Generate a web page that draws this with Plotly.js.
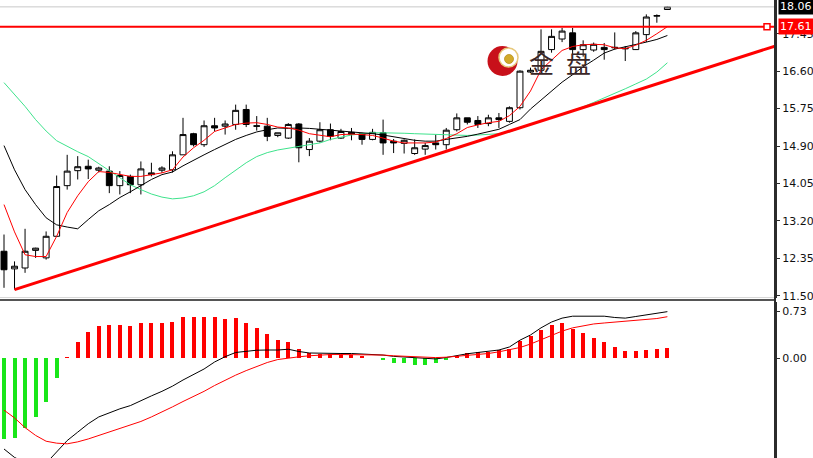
<!DOCTYPE html>
<html>
<head>
<meta charset="utf-8">
<script src="https://cdn.plot.ly/plotly-3.0.1.min.js"></script>
<style>html,body{margin:0;padding:0;background:#fff;}#chart{width:813px;height:458px;}</style>
</head>
<body>
<div id="chart"></div>
<script>
// ---- price candles (bar index 0..63) ----
const openP  = [12.51,12.11,12.13,12.53,12.36,12.85,14.00,14.34,14.44,14.35,14.33,14.00,14.21,14.02,14.25,14.35,
                14.36,14.70,15.18,14.93,15.36,15.35,15.39,15.73,15.36,15.35,15.14,15.08,15.40,14.82,15.01,15.27,
                15.08,15.21,15.18,15.05,15.20,15.01,14.96,14.73,14.83,14.97,14.93,15.27,15.54,15.48,15.41,15.54,
                15.46,15.77,16.58,16.62,17.09,17.33,17.47,17.09,17.08,17.14,17.13,17.12,17.09,17.43,17.85,18.00];
const highP  = [12.89,12.28,13.02,12.59,12.96,14.23,14.70,14.67,14.59,14.43,14.44,14.33,14.25,14.55,14.52,14.44,
                14.78,15.54,15.20,15.48,15.54,15.48,15.84,15.84,15.58,15.54,15.20,15.42,15.42,15.08,15.44,15.41,
                15.29,15.31,15.20,15.29,15.50,15.06,15.05,15.05,14.97,15.16,15.31,15.64,15.54,15.58,15.61,15.65,
                15.80,16.62,16.68,17.55,17.55,17.58,17.58,17.30,17.25,17.24,17.48,17.17,17.51,17.89,17.89,18.08];
const lowP   = [11.68,11.64,12.02,12.36,12.32,12.84,13.91,14.14,14.15,14.30,13.83,13.80,13.83,13.80,14.21,14.29,
                14.30,14.70,14.89,14.88,15.23,15.16,15.27,15.33,15.25,15.01,15.10,15.06,14.53,14.67,14.98,15.03,
                15.06,15.03,14.93,15.03,14.70,14.74,14.73,14.70,14.70,14.82,14.82,15.23,15.39,15.31,15.35,15.31,
                15.43,15.73,16.56,16.57,17.02,17.26,16.98,16.93,17.04,16.86,17.09,16.83,17.08,17.26,17.70,18.00];
const closeP = [12.09,12.17,12.51,12.58,12.85,13.98,14.33,14.43,14.38,14.40,14.00,14.23,14.02,14.38,14.29,14.40,
                14.70,15.16,14.93,15.36,15.31,15.40,15.71,15.39,15.35,15.12,15.20,15.39,14.86,15.01,15.27,15.12,
                15.23,15.17,15.05,15.21,14.97,14.97,15.03,14.86,14.91,14.93,15.26,15.54,15.44,15.39,15.54,15.50,
                15.77,16.60,16.62,17.05,17.39,17.51,17.09,17.20,17.21,17.09,17.14,17.11,17.47,17.83,17.86,18.06];

// ---- moving averages ----
const maFast = [13.57,12.95,12.43,12.39,12.39,12.85,13.39,13.77,14.09,14.32,14.30,14.25,14.21,14.21,14.25,14.29,
                14.36,14.65,14.86,15.03,15.23,15.31,15.39,15.42,15.43,15.39,15.33,15.31,15.26,15.18,15.14,15.11,
                15.16,15.17,15.16,15.14,15.08,15.01,14.97,14.97,14.97,14.99,15.07,15.18,15.32,15.38,15.43,15.46,
                15.59,15.80,16.15,16.63,16.86,17.07,17.16,17.20,17.21,17.20,17.13,17.11,17.19,17.30,17.45,17.61];
const maMid  = [14.91,14.36,13.91,13.57,13.27,13.11,13.06,13.02,13.23,13.43,13.57,13.73,13.86,14.00,14.14,14.25,
                14.31,14.45,14.58,14.70,14.82,14.93,15.05,15.14,15.22,15.27,15.31,15.30,15.31,15.30,15.28,15.27,
                15.25,15.23,15.20,15.18,15.15,15.11,15.07,15.03,15.01,15.01,15.05,15.08,15.12,15.17,15.23,15.28,
                15.39,15.50,15.74,15.95,16.16,16.35,16.52,16.70,16.85,17.01,17.10,17.15,17.20,17.26,17.32,17.41];
const maSlow = [16.34,16.07,15.80,15.50,15.24,15.02,14.89,14.77,14.66,14.50,14.34,14.18,14.02,13.91,13.81,13.74,
                13.70,13.72,13.77,13.86,14.00,14.18,14.36,14.52,14.66,14.75,14.81,14.85,14.89,14.92,14.97,15.05,
                15.10,15.15,15.18,15.20,15.20,15.20,15.19,15.18,15.17,15.16,15.15,15.14,15.14,15.15,15.16,15.18,
                15.22,15.30,15.38,15.46,15.55,15.63,15.71,15.79,15.89,15.99,16.10,16.20,16.31,16.42,16.58,16.79];

// ---- MACD panel ----
const macdHist = [-1.245,-1.225,-1.08,-0.90,-0.68,-0.30,0.015,0.25,0.40,0.50,0.51,0.51,0.50,0.54,0.54,0.54,
                  0.555,0.63,0.63,0.64,0.64,0.61,0.62,0.54,0.47,0.37,0.28,0.25,0.15,0.077,0.06,0.06,
                  0.05,0.05,0.03,0.01,-0.03,-0.07,-0.077,-0.11,-0.11,-0.077,-0.03,0.03,0.077,0.09,0.10,0.13,
                  0.15,0.26,0.35,0.44,0.51,0.54,0.46,0.385,0.32,0.25,0.18,0.11,0.11,0.13,0.14,0.16];
const macdLine = [-1.40,-1.53,-1.61,-1.64,-1.62,-1.44,-1.27,-1.14,-1.01,-0.905,-0.84,-0.78,-0.73,-0.65,-0.58,-0.51,
                  -0.43,-0.335,-0.25,-0.165,-0.057,0.025,0.09,0.11,0.125,0.128,0.128,0.14,0.105,0.082,0.077,0.077,
                  0.074,0.074,0.066,0.062,0.05,0.03,0.02,0.005,-0.003,-0.01,0.012,0.043,0.07,0.09,0.11,0.128,
                  0.175,0.28,0.36,0.47,0.56,0.62,0.65,0.653,0.653,0.65,0.63,0.62,0.645,0.668,0.69,0.72];
const signalLine = [-0.80,-0.92,-1.07,-1.19,-1.28,-1.31,-1.32,-1.29,-1.245,-1.19,-1.13,-1.08,-1.03,-0.975,-0.905,-0.83,
                  -0.75,-0.667,-0.59,-0.51,-0.42,-0.335,-0.26,-0.19,-0.127,-0.065,-0.019,0.005,0.023,0.039,0.05,0.058,
                  0.058,0.058,0.058,0.058,0.05,0.039,0.032,0.023,0.017,0.011,0.017,0.031,0.046,0.062,0.074,0.10,
                  0.128,0.167,0.22,0.29,0.36,0.42,0.47,0.50,0.53,0.545,0.557,0.571,0.585,0.60,0.614,0.642];

// ---- levels, trend line, axis ticks ----
const trendX = [1, 73.22];
const trendY = [11.64, 17.17];
const resistanceLevel = 17.61;
const lastPrice = 18.06;
const priceTicks = [11.50,12.35,13.20,14.05,14.90,15.75,16.60,17.45];
const macdTicks = [0, 0.73];
const logoText = ['金','盘'];

const idx = openP.map((_, i) => i);
const AX = '#2b2b2b';
const tickFont = {family:'DejaVu Sans, Verdana, sans-serif', size:11, color:'#111'};

const traces = [
  {type:'bar', x: idx, y: macdHist, xaxis:'x', yaxis:'y2', width:0.38,
   marker:{color: macdHist.map(v => v >= 0 ? '#ff0000' : '#19e619'), line:{width:0}}, hoverinfo:'skip'},
  {type:'scatter', mode:'lines', x: idx, y: macdLine, xaxis:'x', yaxis:'y2', line:{color:'#000', width:1}},
  {type:'scatter', mode:'lines', x: idx, y: signalLine, xaxis:'x', yaxis:'y2', line:{color:'#ff0000', width:1}},
  {type:'candlestick', x: idx, open: openP, high: highP, low: lowP, close: closeP, xaxis:'x', yaxis:'y',
   line:{width:1}, whiskerwidth:0,
   increasing:{line:{color:'#000', width:1}, fillcolor:'#ffffff'},
   decreasing:{line:{color:'#000', width:1}, fillcolor:'#000000'}},
  {type:'scatter', mode:'lines', x: idx, y: maSlow, yaxis:'y', line:{color:'#3ee38c', width:1}},
  {type:'scatter', mode:'lines', x: idx, y: maMid, yaxis:'y', line:{color:'#000', width:1}},
  {type:'scatter', mode:'lines', x: idx, y: maFast, yaxis:'y', line:{color:'#ff0000', width:1}},
  {type:'scatter', mode:'lines', x: trendX, y: trendY, yaxis:'y', line:{color:'#ff0000', width:3}}
];

const pxX = p => p / 775;
const pxY = p => 1 - p / 458;

const layout = {
  width: 813, height: 458,
  margin: {l:0, r:38, t:0, b:0, pad:0},
  paper_bgcolor:'#ffffff', plot_bgcolor:'#ffffff',
  showlegend:false,
  boxgap:0.25, boxgroupgap:0.25,
  bargap:0,
  xaxis: {range:[-0.38, 73.22], visible:false, anchor:'y2', rangeslider:{visible:false}, showgrid:false, zeroline:false},
  yaxis: {domain:[0.3493, 1], range:[11.448, 18.216], side:'right', anchor:'x',
          tickvals: priceTicks, ticktext: priceTicks.map(v => v.toFixed(2)),
          ticks:'outside', ticklen:3, tickcolor:AX, tickwidth:1,
          showline:true, linecolor:AX, linewidth:2, showgrid:false, zeroline:false, tickfont:tickFont},
  yaxis2: {domain:[0, 0.3406], range:[-1.539, 0.869], side:'right', anchor:'x',
          tickvals: macdTicks, ticktext: macdTicks.map(v => v.toFixed(2)),
          ticks:'outside', ticklen:3, tickcolor:AX, tickwidth:1,
          showline:true, linecolor:AX, linewidth:2, showgrid:false, zeroline:false, tickfont:tickFont},
  shapes: [
    // last price (bid) line
    {type:'line', xref:'paper', x0:0, x1:1, yref:'y', y0:lastPrice, y1:lastPrice, line:{color:'#c8c8c8', width:1}},
    // resistance line
    {type:'line', xref:'paper', x0:0, x1:1, yref:'y', y0:resistanceLevel, y1:resistanceLevel, line:{color:'#ff0000', width:2}},
    // small marker on resistance line
    {type:'rect', xref:'paper', xsizemode:'pixel', xanchor:1, x0:-11, x1:-5,
     yref:'y', ysizemode:'pixel', yanchor:resistanceLevel, y0:-3, y1:3,
     fillcolor:'#ffffff', line:{color:'#ff0000', width:1.5}},
    // panel separator
    {type:'line', xref:'paper', x0:0, x1:1, yref:'paper', y0:pxY(300), y1:pxY(300), line:{color:'#555', width:2}},
    {type:'line', xref:'paper', x0:0, x1:1, yref:'paper', y0:pxY(297.5), y1:pxY(297.5), line:{color:'#d8d8d8', width:1}},
    // right axis line across both panels
    {type:'line', xref:'paper', x0:1, x1:1, yref:'paper', y0:0, y1:1, line:{color:AX, width:2}},
    // logo
    {type:'circle', xref:'paper', xsizemode:'pixel', xanchor:pxX(502.5), x0:-15, x1:15,
     yref:'paper', ysizemode:'pixel', yanchor:pxY(61), y0:-15, y1:15, fillcolor:'#c8101a', line:{width:0}},
    {type:'circle', xref:'paper', xsizemode:'pixel', xanchor:pxX(508.5), x0:-9.5, x1:9.5,
     yref:'paper', ysizemode:'pixel', yanchor:pxY(57.5), y0:-9.5, y1:9.5, fillcolor:'#ffffff', line:{color:'#e7c87a', width:1.5}},
    {type:'circle', xref:'paper', xsizemode:'pixel', xanchor:pxX(509), x0:-4.5, x1:4.5,
     yref:'paper', ysizemode:'pixel', yanchor:pxY(59), y0:-4.5, y1:4.5, fillcolor:'#d2aa2a', line:{color:'#b8901c', width:0.8}}
  ],
  annotations: [
    {xref:'paper', x:1, xanchor:'left', xshift:3, yref:'y', y:lastPrice, yanchor:'middle',
     text: lastPrice.toFixed(2), showarrow:false, bgcolor:'#000000', borderpad:1,
     font:{family:'DejaVu Sans, Verdana, sans-serif', size:11, color:'#ffffff'}},
    {xref:'paper', x:1, xanchor:'left', xshift:3, yref:'y', y:resistanceLevel, yanchor:'middle',
     text: resistanceLevel.toFixed(2), showarrow:false, bgcolor:'#ff0000', borderpad:1,
     font:{family:'DejaVu Sans, Verdana, sans-serif', size:11, color:'#ffffff'}},
    {xref:'paper', x:pxX(541), yref:'paper', y:pxY(62), xanchor:'center', yanchor:'middle',
     text: logoText[0], showarrow:false,
     font:{family:'Noto Sans CJK SC', size:25, color:'#3a2626'}},
    {xref:'paper', x:pxX(578), yref:'paper', y:pxY(62), xanchor:'center', yanchor:'middle',
     text: logoText[1], showarrow:false,
     font:{family:'Noto Sans CJK SC', size:25, color:'#3a2626'}}
  ]
};

Plotly.newPlot('chart', traces, layout, {staticPlot:true, displayModeBar:false});
</script>
</body>
</html>
